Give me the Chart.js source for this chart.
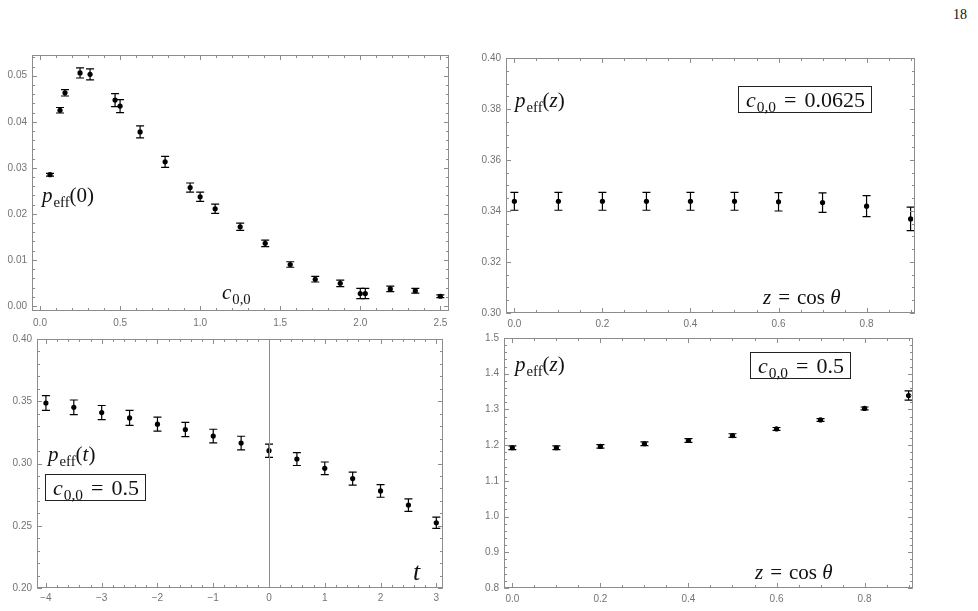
<!DOCTYPE html>
<html>
<head>
<meta charset="utf-8">
<script src="https://cdn.jsdelivr.net/npm/chart.js@4.4.0/dist/chart.umd.min.js"></script>
<style>
  body { margin: 0; background: #fff; }
  #page { position: relative; width: 978px; height: 611px; overflow: hidden; background: #fff; }
  #page canvas { position: absolute; }
  .lbl { position: absolute; font-family: "Liberation Serif", "DejaVu Serif", serif; color: #111; white-space: nowrap; line-height: 1; font-size: 21px; }
  .lbl sub { font-size: 0.7em; vertical-align: -0.32em; line-height: 0; font-style: normal; margin-left: 1px; }
  .lbl .eq { margin: 0 7px; }
  .box { border: 1.3px solid #222; padding: 2px 6px 1px 7px; background: #fff; font-size: 22px; }
  .box .eq { margin: 0 8px; }
</style>
</head>
<body>
<div id="page">
  <canvas id="p1"></canvas>
  <canvas id="p2"></canvas>
  <canvas id="p3"></canvas>
  <canvas id="p4"></canvas>

  <div class="lbl" style="left:953px;top:8px;font-size:14px;">18</div>

  <div class="lbl" style="left:42px;top:185px;"><i>p</i><sub>eff</sub>(0)</div>
  <div class="lbl" style="left:222px;top:282px;"><i>c</i><sub>0,0</sub></div>

  <div class="lbl" style="left:515px;top:90px;"><i>p</i><sub>eff</sub>(<i>z</i>)</div>
  <div class="lbl box" style="left:738px;top:86px;"><i>c</i><sub>0,0</sub><span class="eq">=</span>0.0625</div>
  <div class="lbl" style="left:763px;top:287px;"><i>z</i><span class="eq">=</span>cos <i>θ</i></div>

  <div class="lbl" style="left:48px;top:444px;"><i>p</i><sub>eff</sub>(<i>t</i>)</div>
  <div class="lbl box" style="left:45px;top:474px;"><i>c</i><sub>0,0</sub><span class="eq">=</span>0.5</div>
  <div class="lbl" style="left:413px;top:559px;font-size:26px;"><i>t</i></div>

  <div class="lbl" style="left:515px;top:354px;"><i>p</i><sub>eff</sub>(<i>z</i>)</div>
  <div class="lbl box" style="left:750px;top:352px;"><i>c</i><sub>0,0</sub><span class="eq">=</span>0.5</div>
  <div class="lbl" style="left:755px;top:562px;"><i>z</i><span class="eq">=</span>cos <i>θ</i></div>
</div>

<script>
// top-left: p_eff(0) against c_{0,0}
const p1X = [0.0625, 0.125, 0.15625, 0.25, 0.3125, 0.46875, 0.5, 0.625, 0.78125, 0.9375, 1.0,
  1.09375, 1.25, 1.40625, 1.5625, 1.71875, 1.875, 2.0, 2.03125, 2.1875, 2.34375, 2.5];
const p1Y = [0.0285, 0.0425, 0.0463, 0.0506, 0.0503, 0.0447, 0.0434, 0.0378, 0.0313, 0.0257, 0.0237,
  0.0211, 0.0172, 0.0136, 0.0090, 0.0058, 0.0049, 0.0027, 0.0027, 0.0037, 0.0033, 0.0021];
const p1Err = [0.0003, 0.0006, 0.0007, 0.0011, 0.0012, 0.0014, 0.0014, 0.0013, 0.0012, 0.0010, 0.0010,
  0.0010, 0.0008, 0.0007, 0.0006, 0.0006, 0.0007, 0.0011, 0.0011, 0.0006, 0.0005, 0.0003];
const p1XTicks = [0, 0.5, 1.0, 1.5, 2.0, 2.5];
const p1YTicks = [0, 0.01, 0.02, 0.03, 0.04, 0.05];

// top-right: p_eff(z), c_{0,0} = 0.0625
const p2X = [0, 0.1, 0.2, 0.3, 0.4, 0.5, 0.6, 0.7, 0.8, 0.9];
const p2Y = [0.3438, 0.3438, 0.3438, 0.3438, 0.3438, 0.3438, 0.3436, 0.3433, 0.3419, 0.3369];
const p2Err = [0.0035, 0.0035, 0.0035, 0.0035, 0.0035, 0.0035, 0.0036, 0.0038, 0.0041, 0.0046];
const p2XTicks = [0, 0.2, 0.4, 0.6, 0.8];
const p2YTicks = [0.30, 0.32, 0.34, 0.36, 0.38, 0.40];

// bottom-left: p_eff(t), c_{0,0} = 0.5
const p3X = [-4, -3.5, -3, -2.5, -2, -1.5, -1, -0.5, 0, 0.5, 1, 1.5, 2, 2.5, 3];
const p3Y = [0.3486, 0.3451, 0.3409, 0.3366, 0.3316, 0.3273, 0.3220, 0.3164, 0.3103, 0.3036,
  0.2961, 0.2879, 0.2780, 0.2666, 0.2524];
const p3Err = [0.0059, 0.0059, 0.0057, 0.0060, 0.0056, 0.0057, 0.0055, 0.0055, 0.0053, 0.0052,
  0.0051, 0.0052, 0.0051, 0.0050, 0.0045];
const p3XTicks = [-4, -3, -2, -1, 0, 1, 2, 3];
const p3YTicks = [0.20, 0.25, 0.30, 0.35, 0.40];

// bottom-right: p_eff(z), c_{0,0} = 0.5
const p4X = [0, 0.1, 0.2, 0.3, 0.4, 0.5, 0.6, 0.7, 0.8, 0.9];
const p4Y = [1.1927, 1.1927, 1.1964, 1.2039, 1.2130, 1.2269, 1.2454, 1.2705, 1.3028, 1.3390];
const p4Err = [0.005, 0.005, 0.005, 0.005, 0.005, 0.005, 0.004, 0.004, 0.004, 0.013];
const p4XTicks = [0, 0.2, 0.4, 0.6, 0.8];
const p4YTicks = [0.8, 0.9, 1.0, 1.1, 1.2, 1.3, 1.4, 1.5];

const FRAME = "#8c8c8c";
const TICK_TEXT = "#737373";
const Y_AXIS_W = 30;
const X_AXIS_H = 22;
const PAD_TOP = 10;
const PAD_RIGHT = 14;

function formatTick(value, decimals) {
  const text = Math.abs(value).toFixed(decimals);
  return value < -1e-9 ? "\u2212" + text : text;
}

// error bars, drawn under the points
const errorBarPlugin = {
  id: "errorBars",
  beforeDatasetsDraw(chart) {
    const ctx = chart.ctx;
    const xs = chart.scales.x;
    const ys = chart.scales.y;
    const ds = chart.data.datasets[0];
    ctx.save();
    ctx.strokeStyle = "#000";
    ctx.lineWidth = 1.2;
    ds.data.forEach((p, i) => {
      const px = xs.getPixelForValue(p.x);
      const top = ys.getPixelForValue(p.y + ds.errors[i]);
      const bot = ys.getPixelForValue(p.y - ds.errors[i]);
      ctx.beginPath();
      ctx.moveTo(px, top);
      ctx.lineTo(px, bot);
      ctx.moveTo(px - 4, top);
      ctx.lineTo(px + 4, top);
      ctx.moveTo(px - 4, bot);
      ctx.lineTo(px + 4, bot);
      ctx.stroke();
    });
    ctx.restore();
  }
};

// Mathematica-style frame with inward ticks on all four sides
const framePlugin = {
  id: "frame",
  afterDraw(chart, args, opts) {
    const ctx = chart.ctx;
    const area = chart.chartArea;
    const xs = chart.scales.x;
    const ys = chart.scales.y;
    const left = Math.round(area.left) + 0.5;
    const right = Math.round(area.right) - 0.5;
    const top = Math.round(area.top) + 0.5;
    const bottom = Math.round(area.bottom) - 0.5;

    ctx.save();
    ctx.strokeStyle = FRAME;
    ctx.lineWidth = 1;

    if (opts.zeroLine) {
      const zx = Math.round(xs.getPixelForValue(0)) + 0.5;
      ctx.beginPath();
      ctx.moveTo(zx, top);
      ctx.lineTo(zx, bottom);
      ctx.stroke();
    }

    ctx.strokeRect(left, top, right - left, bottom - top);

    ctx.beginPath();
    const xMinorStart = Math.ceil(xs.min / opts.xMinor - 1e-6);
    const xMinorEnd = Math.floor(xs.max / opts.xMinor + 1e-6);
    for (let k = xMinorStart; k <= xMinorEnd; k++) {
      const px = Math.round(xs.getPixelForValue(k * opts.xMinor)) + 0.5;
      ctx.moveTo(px, bottom); ctx.lineTo(px, bottom - 2.5);
      ctx.moveTo(px, top); ctx.lineTo(px, top + 2.5);
    }
    const yMinorStart = Math.ceil(ys.min / opts.yMinor - 1e-6);
    const yMinorEnd = Math.floor(ys.max / opts.yMinor + 1e-6);
    for (let k = yMinorStart; k <= yMinorEnd; k++) {
      const py = Math.round(ys.getPixelForValue(k * opts.yMinor)) + 0.5;
      ctx.moveTo(left, py); ctx.lineTo(left + 2.5, py);
      ctx.moveTo(right, py); ctx.lineTo(right - 2.5, py);
    }
    xs.ticks.forEach((t) => {
      const px = Math.round(xs.getPixelForValue(t.value)) + 0.5;
      ctx.moveTo(px, bottom); ctx.lineTo(px, bottom - 4.5);
      ctx.moveTo(px, top); ctx.lineTo(px, top + 4.5);
    });
    ys.ticks.forEach((t) => {
      const py = Math.round(ys.getPixelForValue(t.value)) + 0.5;
      ctx.moveTo(left, py); ctx.lineTo(left + 4.5, py);
      ctx.moveTo(right, py); ctx.lineTo(right - 4.5, py);
    });
    ctx.stroke();
    ctx.restore();
  }
};

function buildPanel(spec) {
  const canvas = document.getElementById(spec.id);
  const width = Y_AXIS_W + spec.frame.w + PAD_RIGHT;
  const height = PAD_TOP + spec.frame.h + X_AXIS_H;
  canvas.width = width;
  canvas.height = height;
  canvas.style.left = (spec.frame.left - Y_AXIS_W) + "px";
  canvas.style.top = (spec.frame.top - PAD_TOP) + "px";
  canvas.style.width = width + "px";
  canvas.style.height = height + "px";

  const tickFont = { family: "\"Liberation Sans\", Arial, sans-serif", size: 10 };

  return new Chart(canvas, {
    type: "scatter",
    data: {
      datasets: [{
        data: spec.xs.map((x, i) => ({ x, y: spec.ys[i] })),
        errors: spec.errs,
        backgroundColor: "#000",
        borderColor: "#000",
        pointRadius: 2.6,
        pointHoverRadius: 2.6,
        borderWidth: 0
      }]
    },
    options: {
      responsive: false,
      animation: false,
      devicePixelRatio: 1,
      layout: { padding: { top: PAD_TOP, right: PAD_RIGHT, left: 0, bottom: 0 } },
      plugins: {
        legend: { display: false },
        tooltip: { enabled: false },
        frame: { xMinor: spec.xMinor, yMinor: spec.yMinor, zeroLine: !!spec.zeroLine }
      },
      scales: {
        x: {
          type: "linear",
          min: spec.xRange[0],
          max: spec.xRange[1],
          grid: { display: false, drawTicks: false },
          border: { display: false },
          afterBuildTicks: (s) => { s.ticks = spec.xTicks.map((v) => ({ value: v })); },
          afterFit: (s) => { s.height = X_AXIS_H; },
          ticks: {
            autoSkip: false,
            maxRotation: 0,
            padding: spec.xPad,
            color: TICK_TEXT,
            font: tickFont,
            callback: (v) => formatTick(v, spec.xDec)
          }
        },
        y: {
          type: "linear",
          min: spec.yRange[0],
          max: spec.yRange[1],
          grid: { display: false, drawTicks: false },
          border: { display: false },
          afterBuildTicks: (s) => { s.ticks = spec.yTicks.map((v) => ({ value: v })); },
          afterFit: (s) => { s.width = Y_AXIS_W; },
          ticks: {
            autoSkip: false,
            padding: 5,
            color: TICK_TEXT,
            font: tickFont,
            callback: (v) => formatTick(v, spec.yDec)
          }
        }
      }
    },
    plugins: [errorBarPlugin, framePlugin]
  });
}

buildPanel({
  id: "p1", frame: { left: 32, top: 54, w: 417, h: 257 },
  xs: p1X, ys: p1Y, errs: p1Err,
  xRange: [-0.05, 2.554], yRange: [-0.0011, 0.0545],
  xTicks: p1XTicks, yTicks: p1YTicks, xMinor: 0.1, yMinor: 0.002,
  xDec: 1, yDec: 2, xPad: 6
});

buildPanel({
  id: "p2", frame: { left: 506, top: 57, w: 409, h: 256 },
  xs: p2X, ys: p2Y, errs: p2Err,
  xRange: [-0.019, 0.91], yRange: [0.30, 0.40],
  xTicks: p2XTicks, yTicks: p2YTicks, xMinor: 0.05, yMinor: 0.005,
  xDec: 1, yDec: 2, xPad: 5
});

buildPanel({
  id: "p3", frame: { left: 37, top: 338, w: 406, h: 250 },
  xs: p3X, ys: p3Y, errs: p3Err,
  xRange: [-4.16, 3.12], yRange: [0.20, 0.40],
  xTicks: p3XTicks, yTicks: p3YTicks, xMinor: 0.2, yMinor: 0.01,
  xDec: 0, yDec: 2, xPad: 4, zeroLine: true
});

buildPanel({
  id: "p4", frame: { left: 504, top: 337, w: 409, h: 251 },
  xs: p4X, ys: p4Y, errs: p4Err,
  xRange: [-0.019, 0.91], yRange: [0.8, 1.5],
  xTicks: p4XTicks, yTicks: p4YTicks, xMinor: 0.05, yMinor: 0.02,
  xDec: 1, yDec: 1, xPad: 5
});
</script>
</body>
</html>
